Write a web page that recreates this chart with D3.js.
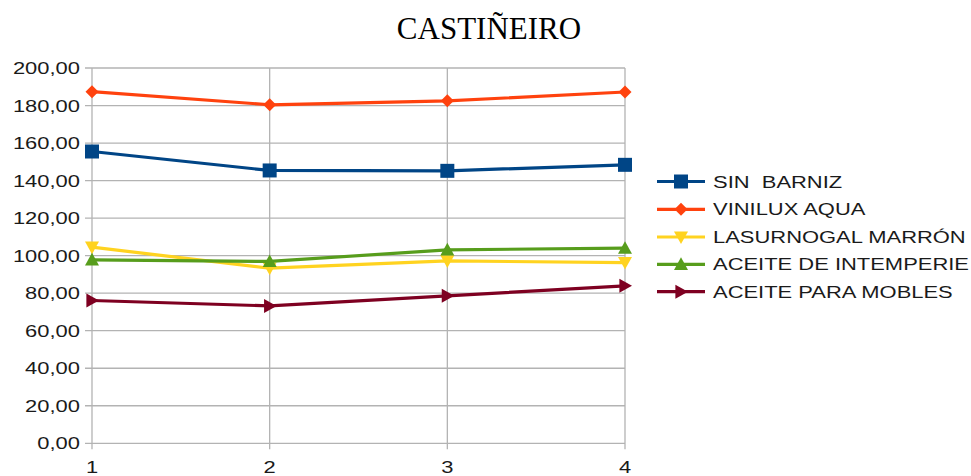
<!DOCTYPE html>
<html>
<head>
<meta charset="utf-8">
<script src="https://cdn.jsdelivr.net/npm/d3@7"></script>
<style>
  html, body { margin: 0; padding: 0; background: #fff; }
  svg { display: block; }
</style>
</head>
<body>
<svg id="chart" width="971" height="476"></svg>
<script>
// Data
const categories = [1, 2, 3, 4];
const seriesNames = ["SIN  BARNIZ", "VINILUX AQUA", "LASURNOGAL MARRÓN", "ACEITE DE INTEMPERIE", "ACEITE PARA MOBLES"];
const sinBarniz = [155.5, 145.4, 145.2, 148.4];
const viniluxAqua = [187.4, 180.4, 182.5, 187.2];
const lasurnogalMarron = [104.5, 93.3, 97.2, 96.3];
const aceiteIntemperie = [97.8, 96.9, 103.1, 104.0];
const aceiteMobles = [76.1, 73.2, 78.6, 83.9];
const yTicks = [0, 20, 40, 60, 80, 100, 120, 140, 160, 180, 200];

const colors = ["#004586", "#ff420e", "#ffd320", "#579d1c", "#7e0021"];
const markers = ["square", "diamond", "down", "up", "right"];
const series = [sinBarniz, viniluxAqua, lasurnogalMarron, aceiteIntemperie, aceiteMobles]
  .map((values, i) => ({ name: seriesNames[i], values, color: colors[i], marker: markers[i] }));

const svg = d3.select("#chart");
const plotLeft = 92, plotRight = 625, plotTop = 68, plotBottom = 443.3;

const x = d3.scaleLinear().domain([1, 4]).range([plotLeft, plotRight]);
const y = d3.scaleLinear().domain([0, 200]).range([plotBottom, plotTop]);

// Title
svg.append("text")
  .attr("x", 489).attr("y", 38.5)
  .attr("text-anchor", "middle")
  .attr("font-family", "Liberation Serif, Times New Roman, serif")
  .attr("font-size", 31)
  .attr("fill", "#000")
  .text("CASTIÑEIRO");

const grid = "#b3b3b3";
const axisFont = "Liberation Sans, Arial, sans-serif";
const fontSize = 16.5;
const widen = 1.33; // labels are set in a wide, horizontally stretched face
const place = (px, py) => `translate(${px},${py}) scale(${widen},1)`;

// Horizontal grid lines
svg.append("g").selectAll("line").data(yTicks).join("line")
  .attr("x1", plotLeft - 7).attr("x2", plotRight)
  .attr("y1", d => y(d)).attr("y2", d => y(d))
  .attr("stroke", grid).attr("stroke-width", 1.3);

// Vertical lines at categories
svg.append("g").selectAll("line").data(categories).join("line")
  .attr("x1", d => x(d)).attr("x2", d => x(d))
  .attr("y1", plotTop).attr("y2", plotBottom + 6)
  .attr("stroke", grid).attr("stroke-width", 1.3);

// Y axis labels
svg.append("g").selectAll("text").data(yTicks).join("text")
  .attr("transform", d => place(80, y(d) + 6))
  .attr("text-anchor", "end")
  .attr("font-family", axisFont).attr("font-size", fontSize)
  .attr("fill", "#1a1a1a")
  .text(d => d3.format(".2f")(d).replace(".", ","));

// X axis labels
svg.append("g").selectAll("text").data(categories).join("text")
  .attr("transform", d => place(x(d), 473))
  .attr("text-anchor", "middle")
  .attr("font-family", axisFont).attr("font-size", fontSize)
  .attr("fill", "#1a1a1a")
  .text(d => d);

function markerPath(type, s) {
  switch (type) {
    case "square": return `M${-s},${-s}H${s}V${s}H${-s}Z`;
    case "diamond": return `M0,${-s}L${s},0L0,${s}L${-s},0Z`;
    case "down": return `M${-s},${-s * 0.8}L${s},${-s * 0.8}L0,${s}Z`;
    case "up": return `M${-s},${s * 0.8}L${s},${s * 0.8}L0,${-s}Z`;
    case "right": return `M${-s * 0.8},${-s}L${s},0L${-s * 0.8},${s}Z`;
  }
}
const markerSize = { square: 7, diamond: 6.5, down: 7, up: 7, right: 7 };

const line = d3.line().x((d, i) => x(categories[i])).y(d => y(d));

series.forEach(s => {
  const g = svg.append("g");
  g.append("path")
    .attr("d", line(s.values))
    .attr("fill", "none")
    .attr("stroke", s.color)
    .attr("stroke-width", 3.2)
    .attr("stroke-linejoin", "round");
  g.selectAll("path.m").data(s.values).join("path")
    .attr("class", "m")
    .attr("transform", (d, i) => `translate(${x(categories[i])},${y(d)})`)
    .attr("d", markerPath(s.marker, markerSize[s.marker]))
    .attr("fill", s.color);
});

// Legend
const legend = svg.append("g");
const rowY = [181.5, 209.3, 237, 264.3, 291.7];
series.forEach((s, i) => {
  const g = legend.append("g").attr("transform", `translate(0,${rowY[i]})`);
  g.append("line").attr("x1", 657).attr("x2", 705).attr("y1", 0).attr("y2", 0)
    .attr("stroke", s.color).attr("stroke-width", 3.2);
  g.append("path").attr("transform", "translate(681,0)")
    .attr("d", markerPath(s.marker, markerSize[s.marker]))
    .attr("fill", s.color);
  g.append("text").attr("transform", place(713, 6))
    .attr("font-family", axisFont).attr("font-size", fontSize)
    .attr("fill", "#1a1a1a")
    .attr("xml:space", "preserve")
    .style("white-space", "pre")
    .text(s.name);
});
</script>
</body>
</html>
